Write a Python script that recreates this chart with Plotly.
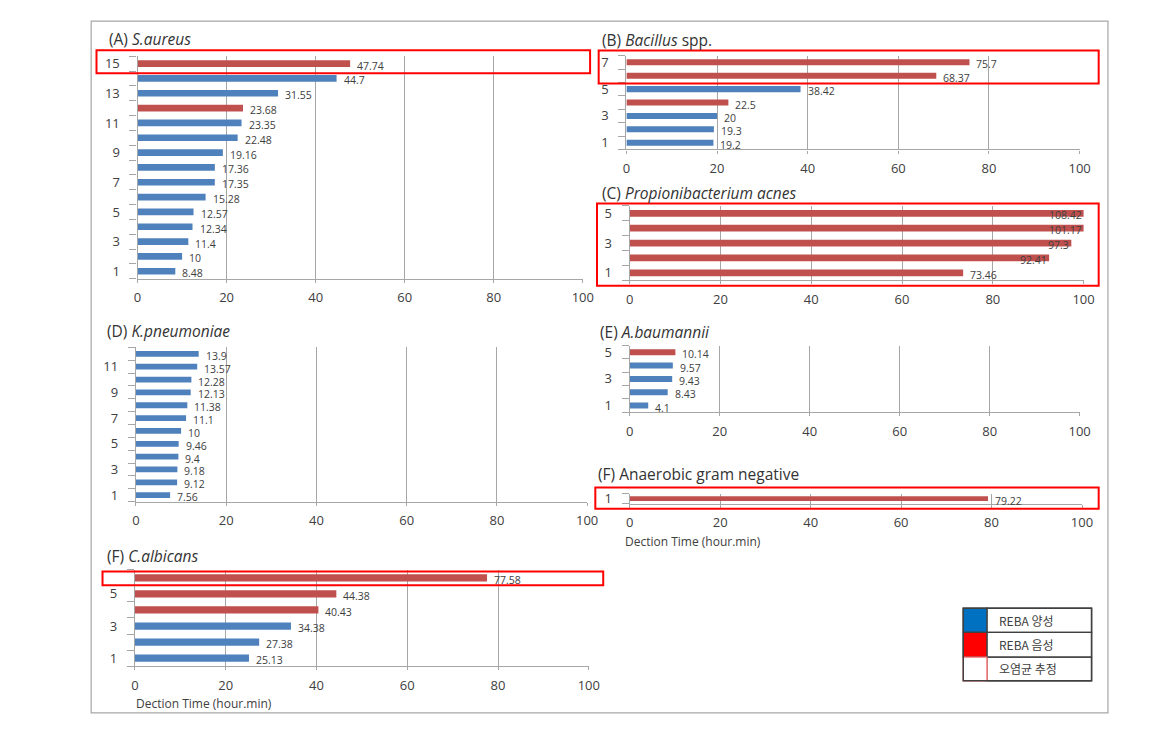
import plotly.graph_objects as go

# ---------------- data ----------------
a_vals = [8.48, 10, 11.4, 12.34, 12.57, 15.28, 17.35, 17.36, 19.16, 22.48, 23.35, 23.68, 31.55, 44.7, 47.74]
a_stat = ['P', 'P', 'P', 'P', 'P', 'P', 'P', 'P', 'P', 'P', 'P', 'N', 'P', 'P', 'N']
b_vals = [19.2, 19.3, 20, 22.5, 38.42, 68.37, 75.7]
b_stat = ['P', 'P', 'P', 'N', 'P', 'N', 'N']
c_vals = [73.46, 92.41, 97.3, 101.17, 108.42]
c_stat = ['N', 'N', 'N', 'N', 'N']
d_vals = [7.56, 9.12, 9.18, 9.4, 9.46, 10, 11.1, 11.38, 12.13, 12.28, 13.57, 13.9]
d_stat = ['P'] * 12
e_vals = [4.1, 8.43, 9.43, 9.57, 10.14]
e_stat = ['P', 'P', 'P', 'P', 'N']
f_vals = [79.22]
f_stat = ['N']
g_vals = [25.13, 27.38, 34.38, 40.43, 44.38, 77.58]
g_stat = ['P', 'P', 'P', 'N', 'N', 'N']
x_ticks = [0, 20, 40, 60, 80, 100]
titles = ['(A) <i>S.aureus</i>', '(B) <i>Bacillus</i> spp.', '(C) <i>Propionibacterium acnes</i>',
          '(D) <i>K.pneumoniae</i>', '(E) <i>A.baumannii</i>', '(F) Anaerobic gram negative',
          '(F) <i>C.albicans</i>']
legend_labels = ['REBA 양성', 'REBA 음성', '오염균 추정']
axis_title = 'Dection Time (hour.min)'

# ---------------- style ----------------
W, H = 1170, 744
BLUE = '#4F81BD'
RED = '#C0504D'
GRID = '#A6A6A6'
TXT = '#404040'
FONT = 'Open Sans, Noto Sans CJK KR, sans-serif'


def px(x):
    return x / W


def py(y):
    return 1 - y / H


# layout boxes in pixels: plot area (x0, x1, ytop, ybottom), title pos
panels = [
    dict(vals=a_vals, stat=a_stat, box=(135.3, 586.3, 52.7, 277.3), tpos=(104, 35)),
    dict(vals=b_vals, stat=b_stat, box=(630.5, 1089.6, 52.1, 146.8), tpos=(604, 36)),
    dict(vals=c_vals, stat=c_stat, box=(633.9, 1093.6, 203.8, 278.9), tpos=(604, 191)),
    dict(vals=d_vals, stat=d_stat, box=(133.7, 590.7, 346.7, 502.3), tpos=(102, 330)),
    dict(vals=e_vals, stat=e_stat, box=(633.9, 1089.6, 344.8, 412.1), tpos=(602, 331)),
    dict(vals=f_vals, stat=f_stat, box=(633.9, 1092.0, 494.2, 504.4), tpos=(600, 474)),
    dict(vals=g_vals, stat=g_stat, box=(132.6, 592.4, 571.1, 668.5), tpos=(102, 557)),
]

fig = go.Figure()
annotations = []
shapes = []

for i, p in enumerate(panels):
    n = i + 1
    xa = 'x' if n == 1 else f'x{n}'
    ya = 'y' if n == 1 else f'y{n}'
    xkey = 'xaxis' if n == 1 else f'xaxis{n}'
    ykey = 'yaxis' if n == 1 else f'yaxis{n}'
    vals = p['vals']
    N = len(vals)
    cats = list(range(1, N + 1))
    colors = [BLUE if s == 'P' else RED for s in p['stat']]
    fig.add_trace(go.Bar(x=vals, y=cats, orientation='h', width=0.45,
                         marker=dict(color=colors, line=dict(width=0)),
                         xaxis=xa, yaxis=ya, showlegend=False))
    x0, x1, yt, yb = p['box']
    fig.layout[xkey] = dict(domain=[px(x0), px(x1)], anchor=ya, range=[0, 100],
                            tickvals=x_ticks, showgrid=True, gridcolor=GRID, gridwidth=1.3,
                            showline=True, linecolor=GRID, linewidth=1.3,
                            ticks='outside', ticklen=3, tickcolor=GRID,
                            tickfont=dict(family=FONT, size=13, color=TXT),
                            ticklabelstandoff=4,
                            zeroline=False, fixedrange=True)
    fig.layout[ykey] = dict(domain=[py(yb), py(yt)], anchor=xa, range=[0.5, N + 0.5],
                            tickvals=[k for k in cats if k % 2 == 1], ticks='',
                            showgrid=False, showline=True, linecolor=GRID, linewidth=1.3,
                            minor=dict(tickvals=[k + 0.5 for k in range(0, N + 1)],
                                       ticks='outside', ticklen=7, tickcolor=GRID, tickwidth=1.3),
                            tickfont=dict(family=FONT, size=13, color=TXT),
                            ticklabelstandoff=14, zeroline=False, fixedrange=True)
    # value labels
    for c, v in zip(cats, vals):
        if v > 90:
            annotations.append(dict(x=min(v, 100), y=c, xref=xa, yref=ya, text=str(v),
                                    xanchor='right', yanchor='middle', showarrow=False, yshift=-2,
                                    font=dict(family=FONT, size=10.5, color=TXT)))
        else:
            annotations.append(dict(x=v, y=c, xref=xa, yref=ya, text=str(v),
                                    xanchor='left', yanchor='middle', showarrow=False,
                                    xshift=5, yshift=-2,
                                    font=dict(family=FONT, size=10.5, color=TXT)))
    tx, ty = p['tpos']
    annotations.append(dict(x=px(tx), y=py(ty), xref='paper', yref='paper', text=titles[i],
                            xanchor='left', yanchor='middle', showarrow=False,
                            font=dict(family=FONT, size=15.5, color='#333333')))

# axis titles
for (tx, ty) in [(627, 543), (132, 706)]:
    annotations.append(dict(x=px(tx), y=py(ty), xref='paper', yref='paper', text=axis_title,
                            xanchor='left', yanchor='middle', showarrow=False,
                            font=dict(family=FONT, size=12, color=TXT)))

# outer frame
shapes.append(dict(type='rect', xref='paper', yref='paper', x0=px(88.3), x1=px(1118.3),
                   y0=py(715.7), y1=py(17.3), line=dict(color='#A6A6A6', width=1.2)))

# red highlight boxes (contaminant estimate)
for (bx0, by0, bx1, by1) in [(93.7, 46.7, 593.7, 70.0), (602.4, 47.0, 1108.9, 80.2),
                             (600.7, 201.4, 1108.9, 284.3), (599.0, 488.2, 1108.9, 509.5),
                             (99.8, 572.8, 607.0, 586.7)]:
    shapes.append(dict(type='rect', xref='paper', yref='paper', x0=px(bx0), x1=px(bx1),
                       y0=py(by1), y1=py(by0), line=dict(color='#FF0000', width=2)))

# legend table
rows = [610.0, 634.3, 659.3, 683.3]
lx0, lx1, lxc = 971.7, 1101.7, 995.7
cell_fill = ['#0070C0', '#FF0000', 'white']
for r in range(3):
    shapes.append(dict(type='rect', xref='paper', yref='paper', x0=px(lxc), x1=px(lx1),
                       y0=py(rows[r + 1]), y1=py(rows[r]), line=dict(color='#404040', width=1.3)))
    shapes.append(dict(type='rect', xref='paper', yref='paper', x0=px(lx0), x1=px(lxc),
                       y0=py(rows[r + 1]), y1=py(rows[r]), fillcolor=cell_fill[r],
                       line=dict(color='#404040' if r < 2 else '#FF7070', width=1.3)))
    annotations.append(dict(x=px(1006), y=py((rows[r] + rows[r + 1]) / 2), xref='paper', yref='paper',
                            text=legend_labels[r], xanchor='left', yanchor='middle', showarrow=False,
                            font=dict(family='Noto Sans CJK KR, sans-serif', size=12, color=TXT)))
shapes.append(dict(type='rect', xref='paper', yref='paper', x0=px(lx0), x1=px(lx1),
                   y0=py(rows[3]), y1=py(rows[0]), line=dict(color='#404040', width=1.5)))

fig.update_layout(autosize=True, margin=dict(l=0, r=0, t=0, b=0),
                  paper_bgcolor='white', plot_bgcolor='white',
                  annotations=annotations, shapes=shapes, bargap=0.5,
                  font=dict(family=FONT, color=TXT))

fig.write_html("out.html", default_width='100vw', default_height='100vh',
               config={'displayModeBar': False},
               post_script="document.body.style.margin='0px';document.body.style.overflow='hidden';"
                           "document.documentElement.style.overflow='hidden';")
